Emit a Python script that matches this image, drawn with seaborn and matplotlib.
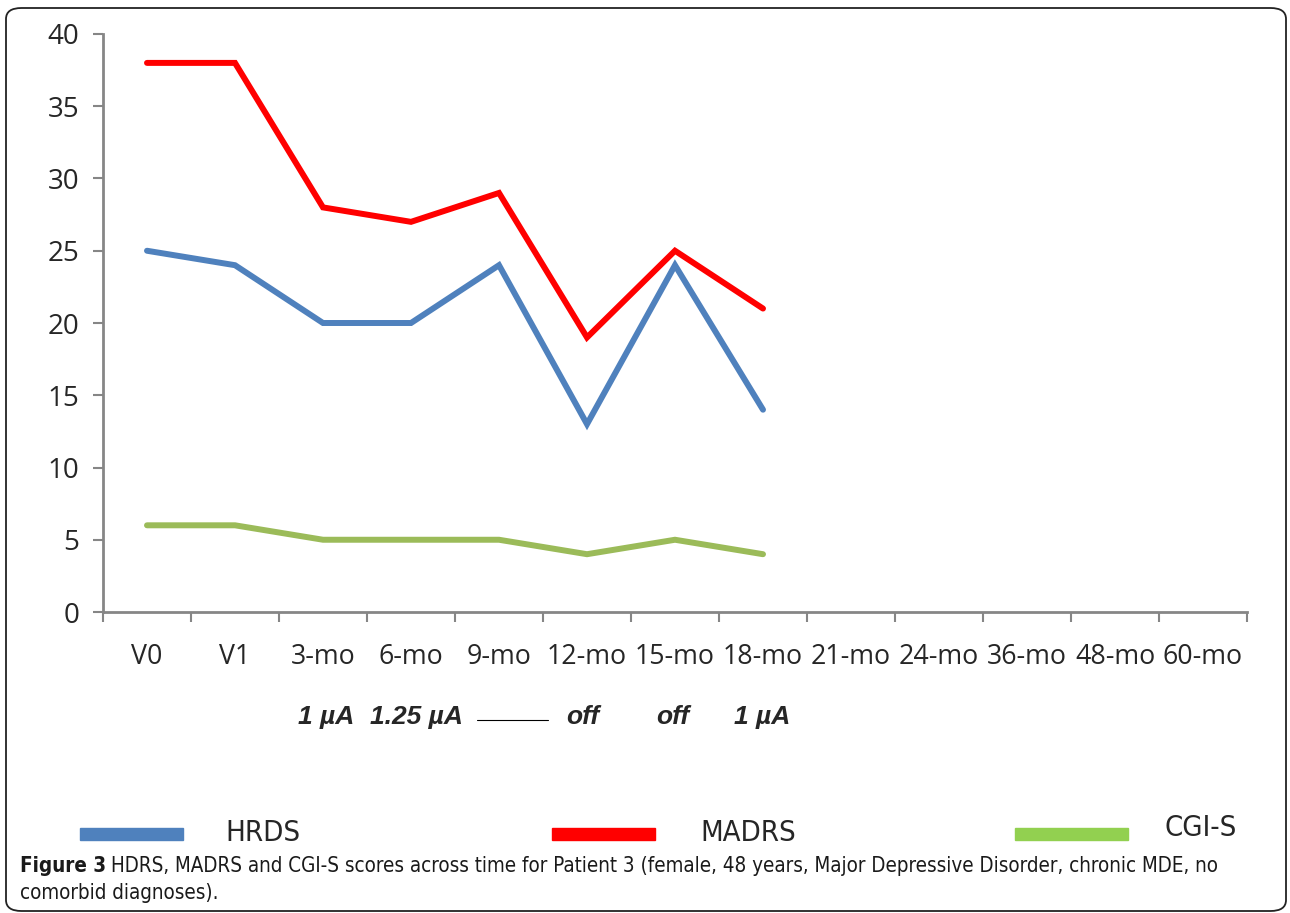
import pandas as pd
import seaborn as sns
import matplotlib.pyplot as plt
from matplotlib.patches import FancyBboxPatch, Rectangle

# dados
visitas = ["V0", "V1", "3-mo", "6-mo", "9-mo", "12-mo", "15-mo", "18-mo",
           "21-mo", "24-mo", "36-mo", "48-mo", "60-mo"]
hrds = [25, 24, 20, 20, 24, 13, 24, 14]
madrs = [38, 38, 28, 27, 29, 19, 25, 21]
cgis = [6, 6, 5, 5, 5, 4, 5, 4]
estimulo = ["1 µA", "1.25 µA", "off", "off", "1 µA"]
cores = {"HRDS": "#4F81BD", "MADRS": "#FF0000", "CGI-S": "#9BBB59"}
cores_legenda = {"HRDS": "#4F81BD", "MADRS": "#FF0000", "CGI-S": "#92D050"}

linhas = []
for nome, vals in [("HRDS", hrds), ("MADRS", madrs), ("CGI-S", cgis)]:
    for i, v in enumerate(vals):
        linhas.append({"pos": i, "score": v, "escala": nome})
db = pd.DataFrame(linhas)

sns.set_style("white")
plt.rcParams["font.family"] = ["Open Sans", "DejaVu Sans"]

fig = plt.figure(figsize=(12.9, 9.13), dpi=100)
ax = fig.add_axes([103 / 1290, 1 - 612 / 913, 1144 / 1290, 578 / 913])

sns.lineplot(data=db, x="pos", y="score", hue="escala", palette=cores,
             linewidth=4.3, legend=False, ax=ax, solid_capstyle="round",
             solid_joinstyle="miter")

ax.set_xlim(-0.5, len(visitas) - 0.5)
ax.set_ylim(0, 40)
ax.set_yticks(range(0, 41, 5))
ax.set_xticks([i - 0.5 for i in range(len(visitas) + 1)])
ax.set_xticklabels([])
ax.set_xticks(range(len(visitas)), minor=True)
ax.set_xticklabels(visitas, minor=True, fontsize=19.3)
ax.tick_params(axis="x", which="major", length=7, width=1.5, color="#868686", direction="out", bottom=True)
ax.tick_params(axis="x", which="minor", length=0, pad=22)
ax.tick_params(axis="y", length=7, width=1.5, color="#868686", direction="out", left=True,
               labelsize=20, pad=10)
ax.set_xlabel("")
ax.set_ylabel("")
for s in ["top", "right"]:
    ax.spines[s].set_visible(False)
for s in ["left", "bottom"]:
    ax.spines[s].set_color("#868686")
    ax.spines[s].set_linewidth(2)

# linha de estimulo
xs = [326, 416, 583, 673, 762]
for x, t in zip(xs, estimulo):
    fig.text(x / 1290, 1 - 717 / 913, t, ha="center", va="center", fontsize=19,
             fontweight="bold", fontstyle="italic", family=["Liberation Sans", "DejaVu Sans"])
fig.add_artist(plt.Line2D([477 / 1290, 548 / 1290], [1 - 720 / 913] * 2, color="black", lw=0.8))

# legenda manual
estreita = dict(family=["DejaVu Sans"], fontstretch="condensed")
for nome, x0, x1, xt, yt in [("HRDS", 80, 183, 225, 833), ("MADRS", 552, 655, 700, 833),
                             ("CGI-S", 1015, 1128, 1165, 828)]:
    fig.add_artist(Rectangle((x0 / 1290, 1 - 840 / 913), (x1 - x0) / 1290, 12 / 913,
                             color=cores_legenda[nome], transform=fig.transFigure))
    fig.text(xt / 1290, 1 - yt / 913, nome, ha="left", va="center", fontsize=21, **estreita)

# legenda da figura
t1 = fig.text(20 / 1290, 1 - 866 / 913, "Figure 3", ha="left", va="center", fontsize=14.8,
              fontweight="bold", color="#1a1a1a", **estreita)
fig.canvas.draw()
bb = t1.get_window_extent()
fig.text((bb.x1 + 5) / 1290, 1 - 866 / 913,
         "HDRS, MADRS and CGI-S scores across time for Patient 3 (female, 48 years, Major Depressive Disorder, chronic MDE, no",
         ha="left", va="center", fontsize=14.8, color="#1a1a1a", **estreita)
fig.text(20 / 1290, 1 - 893 / 913, "comorbid diagnoses).", ha="left", va="center", fontsize=14.8,
         color="#1a1a1a", **estreita)

fig.add_artist(FancyBboxPatch((6 / 1290, 2 / 913), 1280 / 1290, 903 / 913,
                              boxstyle="round,pad=0,rounding_size=0.012",
                              transform=fig.transFigure, fill=False, edgecolor="#222222", lw=1.3))

fig.savefig("out.png", dpi=100)
